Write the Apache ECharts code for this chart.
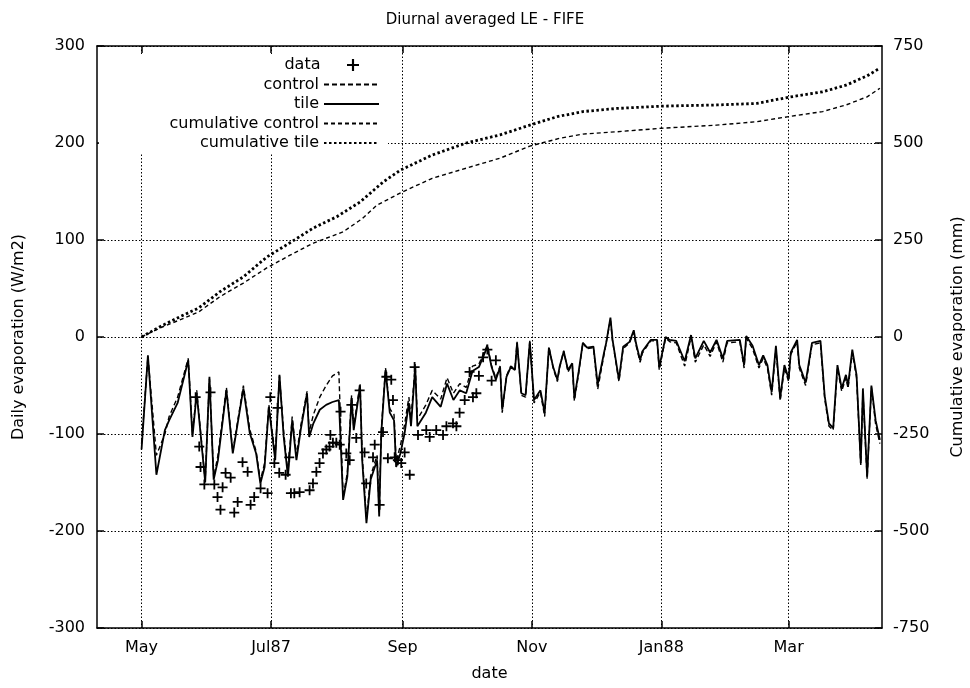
<!DOCTYPE html>
<html><head><meta charset="utf-8">
<script src="https://cdn.jsdelivr.net/npm/echarts@6/dist/echarts.min.js"></script>
<style>html,body{margin:0;padding:0;background:#fff}#c{width:970px;height:688px}</style>
</head><body><div id="c"></div>
<script>
// x values are days since 1 May 1987
const monthTickDays = [0, 61, 123, 184, 245, 305];
const monthTickLabels = ['May', 'Jul87', 'Sep', 'Nov', 'Jan88', 'Mar'];

const dailyDays = [0,3,7,11,13,17,22,24,26,30,32,34,36,40,43,48,51,54,56,58,60,63,65,67,69,71,73,75,78,79,81,84,87,90,93,95,97,99,100,103,104,106,108,111,112,113,115,117,119,120,122,124,126,127,129,130,134,137,141,144,147,150,153,156,159,163,165,167,169,170,172,174,176,177,179,181,183,185,188,190,192,194,196,197,199,201,203,204,206,208,210,213,215,218,219,221,222,225,227,230,232,233,235,236,239,240,243,244,247,249,252,256,259,261,265,268,271,274,276,282,284,285,288,291,293,295,297,299,301,303,305,306,309,310,313,316,320,322,324,326,328,330,332,333,335,337,339,340,342,344,346,348];
const tileValues = [-116,-19,-142,-96,-86,-68,-24,-103,-58,-150,-41,-147,-127,-55,-120,-53,-99,-120,-151,-134,-72,-127,-39,-103,-144,-86,-127,-96,-58,-103,-89,-75,-70,-67,-65,-168,-144,-63,-96,-51,-127,-192,-147,-127,-185,-99,-34,-78,-86,-134,-120,-99,-68,-92,-31,-92,-78,-62,-72,-48,-65,-55,-58,-35,-31,-10,-31,-44,-31,-75,-41,-31,-34,-6,-58,-60,-5,-65,-55,-78,-11,-31,-44,-31,-15,-34,-27,-63,-36,-6,-11,-10,-49,-16,-6,20,-3,-44,-10,-5,7,-6,-24,-15,-6,-3,-3,-31,0,-3,-4,-25,2,-22,-4,-16,-3,-22,-4,-3,-29,1,-9,-29,-19,-29,-57,-9,-63,-29,-43,-16,-3,-29,-47,-6,-4,-61,-89,-94,-29,-53,-39,-50,-13,-39,-130,-53,-144,-50,-86,-106];
const controlValues = [-110,-20,-122,-100,-82,-62,-22,-100,-55,-148,-43,-145,-122,-52,-118,-50,-95,-118,-148,-130,-70,-122,-40,-98,-140,-82,-122,-92,-56,-98,-80,-62,-50,-40,-36,-165,-140,-60,-92,-48,-122,-188,-143,-122,-180,-95,-32,-74,-80,-128,-112,-90,-62,-84,-28,-85,-70,-55,-64,-42,-58,-48,-52,-30,-28,-8,-30,-42,-30,-78,-40,-30,-33,-5,-60,-62,-4,-68,-57,-82,-10,-32,-46,-32,-14,-36,-28,-66,-38,-6,-12,-11,-54,-18,-6,18,-4,-46,-12,-6,5,-8,-26,-17,-7,-4,-4,-34,-1,-5,-6,-30,0,-26,-8,-20,-5,-26,-6,-5,-32,-1,-12,-32,-22,-32,-60,-12,-66,-32,-46,-18,-5,-32,-50,-8,-6,-64,-92,-96,-32,-56,-42,-53,-16,-42,-132,-56,-146,-52,-90,-110];

const dataDays = [25.5,27.2,27.8,29.6,32.5,34.3,35.8,37.2,38.2,39.6,42.0,43.7,45.3,47.6,50.0,51.4,53.1,56.1,59.4,60.7,62.6,64.1,64.9,67.9,69.6,70.4,72.0,74.5,79.2,80.8,82.4,83.9,85.5,87.1,88.6,89.0,90.2,91.8,93.4,93.8,96.5,98.1,98.9,101.2,102.8,105.1,105.9,109.1,109.9,112.2,113.8,115.4,116.1,117.7,118.5,119.3,120.8,122.4,124.0,126.4,128.7,130.3,134.2,135.8,138.9,142.1,143.7,146.8,148.4,149.9,152.3,154.6,156.2,157.8,159,161,163,165,167];
const dataValues = [-62,-113,-134,-152,-57,-152,-165,-178,-155,-140,-145,-181,-170,-129,-139,-173,-165,-156,-161,-62,-130,-73,-140,-142,-124,-161,-161,-160,-158,-151,-139,-130,-120,-116,-113,-101,-109,-109,-111,-77,-120,-127,-70,-104,-55,-119,-151,-124,-111,-173,-98,-41,-125,-44,-65,-124,-127,-130,-119,-142,-31,-101,-96,-103,-96,-101,-92,-89,-92,-78,-65,-36,-62,-58,-40,-21,-13,-45,-24];

const cumTileDays = [0,8.5,18,27,37,48,59,70,81,92,103,114,122,137,153,169,183,196,208,224,245,271,290,305,321,332,342,348];
const cumTileValues = [0,26,52,75,117,155,206,243,281,310,348,400,430,469,500,521,546,568,581,589,595,598,602,618,632,649,673,693];
const cumControlDays = [0,8.5,18,27,37,48,59,70,81,95,104,111,123,137,153,169,183,197,208,224,245,271,290,305,321,332,342,348];
const cumControlValues = [0,23,44,65,104,139,178,211,242,271,305,340,374,409,435,461,492,512,523,529,538,546,555,568,581,598,619,641];

const FONT = 'DejaVu Sans';
const txt = {color:'#000', fontFamily: FONT, fontSize: 16};
const pair = (xs, ys) => xs.map((x, i) => [x, ys[i]]);
const plusPath = 'path://M4.1,0H5.9V4.1H10V5.9H5.9V10H4.1V5.9H0V4.1H4.1Z';

const chart = echarts.init(document.getElementById('c'), null, {renderer: 'canvas'});
const legendRows = ['data','control','tile','cumulative control','cumulative tile'];
const legendTops = [57, 76.5, 96, 115.5, 135];
const legendRights = [611, 590, 590, 590, 590];
const legends = legendRows.map((name, i) => {
  const l = {
    data: [name], orient: 'vertical', align: 'right', right: legendRights[i], top: legendTops[i],
    itemWidth: 55, itemHeight: 12, padding: 0, selectedMode: false,
    textStyle: Object.assign({}, txt)
  };
  if (i > 0) l.itemStyle = {color: 'rgba(0,0,0,0)', borderColor: 'rgba(0,0,0,0)', borderWidth: 0, opacity: 0};
  return l;
});

const option = {
  backgroundColor: '#fff',
  animation: false,
  title: {text: 'Diurnal averaged LE - FIFE', left: 'center', top: 8,
    textStyle: {color:'#000', fontFamily: FONT, fontSize: 15, fontWeight: 'normal'}},
  legend: legends,
  graphic: {elements: [{type: 'rect', z: 1, shape: {x: 99, y: 54, width: 289, height: 99}, style: {fill: '#fff'}}]},
  grid: {left: 97, right: 88, top: 46, bottom: 60, containLabel: false, outerBoundsMode: 'none'},
  xAxis: [{
    type: 'value', min: -21, max: 349, position: 'bottom',
    name: 'date', nameLocation: 'middle', nameGap: 38, nameTextStyle: Object.assign({}, txt),
    axisLine: {show: true, onZero: false, lineStyle: {color: '#000', width: 1.5}},
    axisTick: {show: true, inside: true, length: 7, customValues: monthTickDays, lineStyle: {color: '#000', width: 1.5}},
    axisLabel: Object.assign({customValues: monthTickDays, margin: 12,
      formatter: v => monthTickLabels[monthTickDays.indexOf(v)] || ''}, txt),
    splitLine: {show: true, lineStyle: {color: '#000', type: [1.5, 2], width: 1}}
  }, {
    type: 'value', min: -21, max: 349, position: 'top',
    axisLine: {show: true, onZero: false, lineStyle: {color: '#000', width: 1.5}},
    axisTick: {show: true, inside: true, length: 7, customValues: monthTickDays, lineStyle: {color: '#000', width: 1.5}},
    axisLabel: {show: false}, splitLine: {show: false}
  }],
  yAxis: [{
    type: 'value', min: -300, max: 300, interval: 100, position: 'left',
    name: 'Daily evaporation (W/m2)', nameLocation: 'middle', nameGap: 70, nameTextStyle: Object.assign({}, txt),
    axisLine: {show: true, onZero: false, lineStyle: {color: '#000', width: 1.5}},
    axisTick: {show: true, inside: true, length: 7, lineStyle: {color: '#000', width: 1.5}},
    axisLabel: Object.assign({margin: 12}, txt),
    splitLine: {show: true, lineStyle: {color: '#000', type: [1.5, 2], width: 1}}
  }, {
    type: 'value', min: -750, max: 750, interval: 250, position: 'right',
    name: 'Cumulative evaporation (mm)', nameLocation: 'middle', nameGap: 68, nameRotate: 90,
    nameTextStyle: Object.assign({}, txt),
    axisLine: {show: true, onZero: false, lineStyle: {color: '#000', width: 1.5}},
    axisTick: {show: true, inside: true, length: 7, lineStyle: {color: '#000', width: 1.5}},
    axisLabel: Object.assign({margin: 11}, txt),
    splitLine: {show: false}
  }],
  series: [
    {name: 'data', type: 'scatter', xAxisIndex: 0, yAxisIndex: 0, symbol: plusPath, symbolSize: 10,
      itemStyle: {color: '#000', opacity: 1}, data: pair(dataDays, dataValues), z: 3},
    {name: 'control', type: 'line', xAxisIndex: 0, yAxisIndex: 0, symbol: 'none',
      lineStyle: {color: '#000', width: 1.4, type: [5, 3]}, itemStyle: {color: '#000'},
      data: pair(dailyDays, controlValues)},
    {name: 'tile', type: 'line', xAxisIndex: 0, yAxisIndex: 0, symbol: 'none',
      lineStyle: {color: '#000', width: 1.8, type: 'solid'}, itemStyle: {color: '#000'},
      data: pair(dailyDays, tileValues)},
    {name: 'cumulative control', type: 'line', xAxisIndex: 0, yAxisIndex: 1, symbol: 'none',
      lineStyle: {color: '#000', width: 1.4, type: [4, 3]}, itemStyle: {color: '#000'},
      data: pair(cumControlDays, cumControlValues)},
    {name: 'cumulative tile', type: 'line', xAxisIndex: 0, yAxisIndex: 1, symbol: 'none',
      lineStyle: {color: '#000', width: 2.8, type: [2.5, 2.5]}, itemStyle: {color: '#000'},
      data: pair(cumTileDays, cumTileValues)}
  ]
};
chart.setOption(option);
</script></body></html>
